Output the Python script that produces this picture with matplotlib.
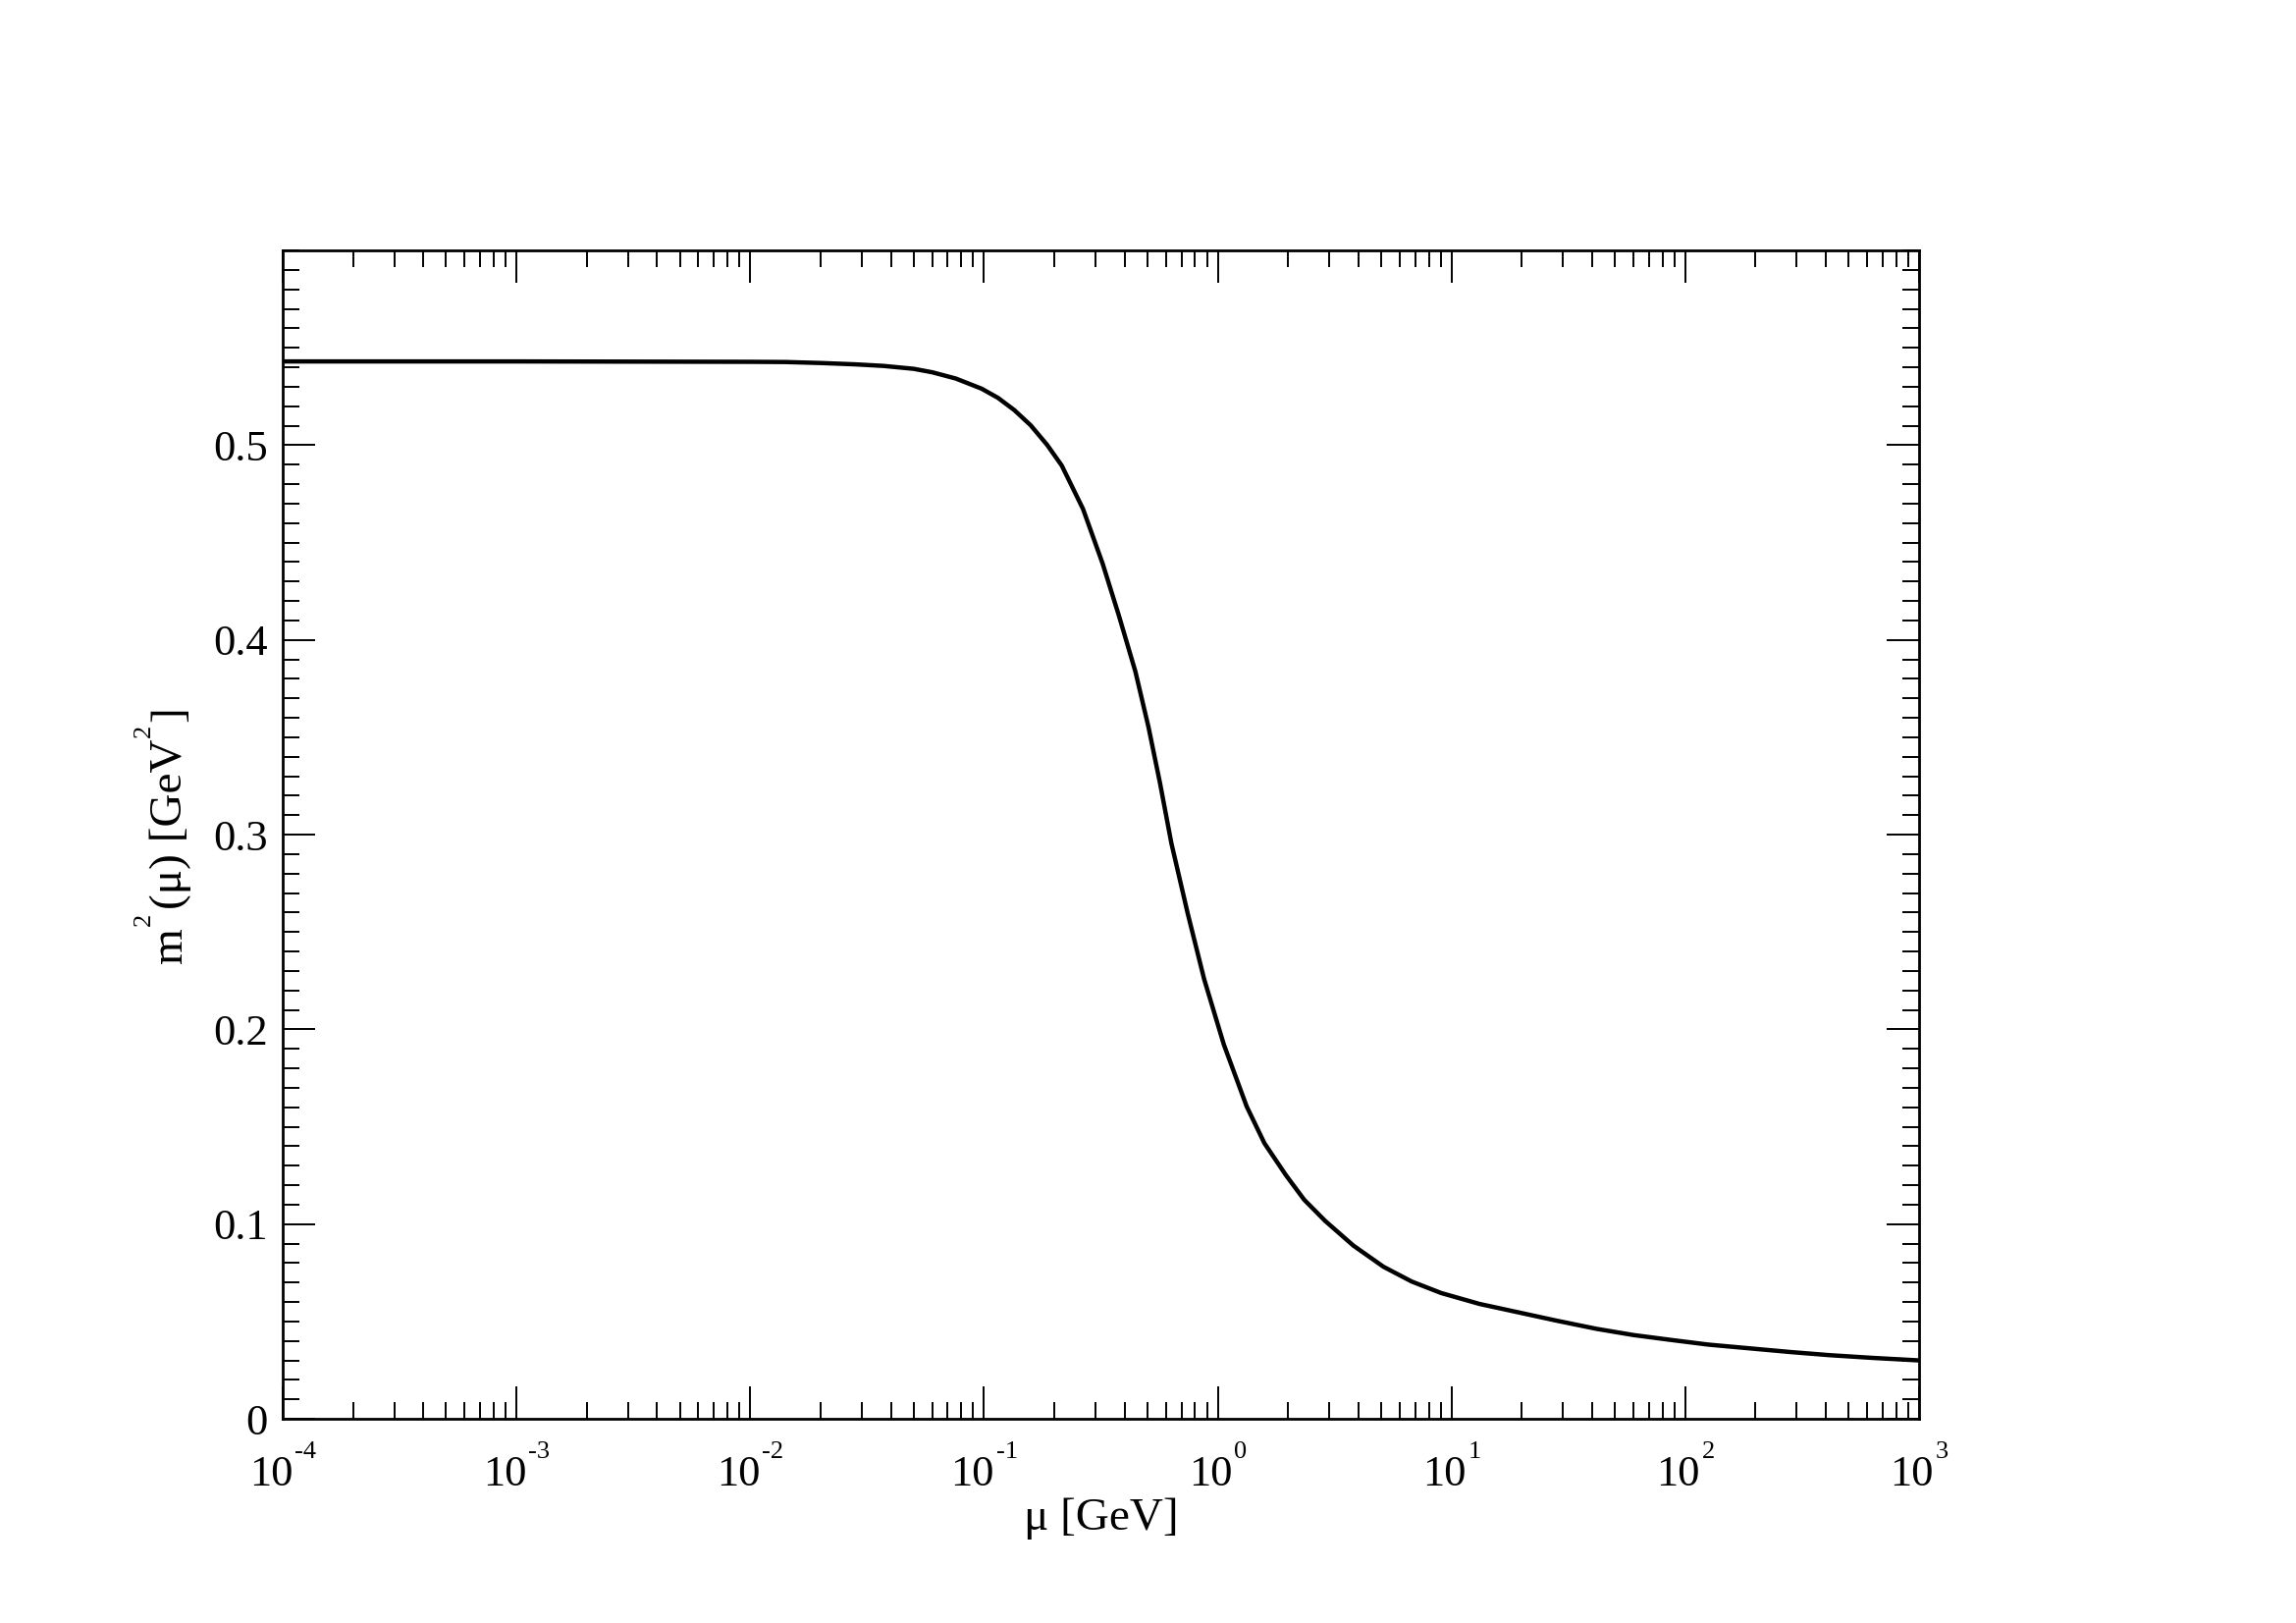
import numpy as np
import matplotlib
matplotlib.use("Agg")
import matplotlib.pyplot as plt
from matplotlib.transforms import IdentityTransform
from matplotlib.ticker import FixedLocator, MultipleLocator, LogLocator, FuncFormatter, NullFormatter

plt.rcParams["font.family"] = ["Liberation Serif", "DejaVu Serif"]

# curve: log10(mu / GeV) and m^2(mu) in GeV^2
log_mu = [-4.0, -3.0, -2.5, -2.0, -1.85, -1.7, -1.55, -1.43, -1.3, -1.22, -1.12,
          -1.01, -0.94, -0.87, -0.8, -0.73, -0.667, -0.576, -0.492, -0.422,
          -0.352, -0.296, -0.247, -0.198, -0.128, -0.058, 0.026, 0.124, 0.2,
          0.292, 0.37, 0.460, 0.58, 0.709, 0.83, 0.956, 1.12, 1.289, 1.45,
          1.621, 1.78, 1.953, 2.1, 2.284, 2.45, 2.616, 2.8, 3.0]
m2 = [0.5430, 0.5430, 0.5429, 0.5428, 0.5427, 0.5422, 0.5415, 0.5407, 0.5392, 0.5374, 0.5342,
      0.5290, 0.5243, 0.5180, 0.5102, 0.5002, 0.4895, 0.4672, 0.4391, 0.4122,
      0.3837, 0.3552, 0.3266, 0.2955, 0.2594, 0.2258, 0.1923, 0.1604, 0.1415,
      0.1251, 0.1125, 0.1016, 0.0890, 0.0781, 0.0705, 0.0646, 0.0590, 0.0546, 0.0504,
      0.0462, 0.0430, 0.0403, 0.0381, 0.0361, 0.0343, 0.0327, 0.0313, 0.0300]

x_decades = [-4, -3, -2, -1, 0, 1, 2, 3]
y_major = [0.0, 0.1, 0.2, 0.3, 0.4, 0.5]

mu = 10.0 ** np.array(log_mu)

fig = plt.figure(figsize=(23.39, 16.53), dpi=100)
ax = fig.add_axes([0.1231, 0.1258, 0.8358 - 0.1231, 0.8457 - 0.1258])

ax.plot(mu, m2, color="black", linewidth=3.2, solid_joinstyle="round")

ax.set_xscale("log")
ax.set_xlim(1e-4, 1e3)
ax.set_ylim(0, 0.6)

ax.xaxis.set_major_locator(LogLocator(base=10, numticks=20))
ax.xaxis.set_minor_locator(LogLocator(base=10, subs=np.arange(2, 10), numticks=100))
ax.xaxis.set_minor_formatter(NullFormatter())

ax.yaxis.set_major_locator(FixedLocator(y_major))
ax.yaxis.set_minor_locator(MultipleLocator(0.01))
ax.yaxis.set_major_formatter(FuncFormatter(lambda v, p: "0" if abs(v) < 1e-9 else "%.1f" % v))

for s in ax.spines.values():
    s.set_linewidth(2.0)

ax.tick_params(which="both", direction="in", top=True, right=True, labelbottom=False)
ax.tick_params(which="major", length=24, width=1.4, labelsize=32)
ax.tick_params(which="minor", length=12, width=1.4)
ax.tick_params(axis="y", which="major", pad=11)

ax.set_xlabel("μ [GeV]", fontsize=34)
ax.xaxis.set_label_coords(0.5, -0.068)

# superscripted texts are laid out piece by piece, in output pixels
renderer = fig.canvas.get_renderer()
px = IdentityTransform()


def text_width(s, size):
    t = fig.text(0, 0, s, fontsize=size, transform=px)
    w = t.get_window_extent(renderer).width
    t.remove()
    return w


base_size, exp_size = 32, 19
spine_y = ax.transAxes.transform((0, 0))[1]
for d in x_decades:
    tick_x = ax.transData.transform((10.0 ** d, 0.3))[0]
    w_base = text_width("10", base_size)
    w_exp = text_width(str(d), exp_size)
    left = tick_x - (w_base + 2 + w_exp) / 2
    fig.text(left, spine_y - 68, "10", fontsize=base_size, ha="left", va="baseline", transform=px)
    fig.text(left + w_base + 2, spine_y - 40, str(d), fontsize=exp_size,
             ha="left", va="baseline", transform=px)

# y label: m^2(mu) [GeV^2], rotated
label_size = 34
pieces = [("m", label_size, 0), ("2", exp_size, 32), ("(μ) [GeV", label_size, 0),
          ("2", exp_size, 32), ("]", label_size, 0)]
widths = [text_width(s, sz) for s, sz, r in pieces]
gaps = [2, 3, 2, 3, 0]
total = sum(widths) + sum(gaps)
center_y = ax.transAxes.transform((0, 0.5))[1]
base_x = 185
y = center_y - total / 2
for (s, sz, r), w, g in zip(pieces, widths, gaps):
    fig.text(base_x - r, y, s, fontsize=sz, rotation=90, rotation_mode="anchor",
             ha="left", va="baseline", transform=px)
    y += w + g

fig.savefig("out.png", dpi=100)
